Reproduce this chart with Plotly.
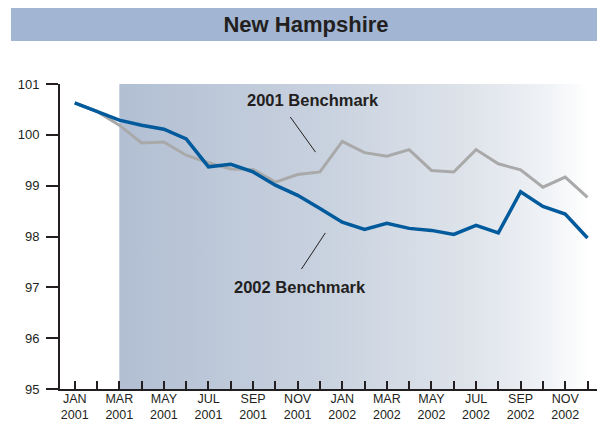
import plotly.graph_objects as go

months = ["JAN", "FEB", "MAR", "APR", "MAY", "JUN", "JUL", "AUG", "SEP", "OCT", "NOV", "DEC"]
years = ["2001", "2002"]
tick_labels = [f"{m}<br>{y}" if i % 2 == 0 else "" for y in years for i, m in enumerate(months)]
x_idx = list(range(24))

bench_2002 = [100.63, 100.46, 100.29, 100.19, 100.11, 99.92, 99.37, 99.42, 99.27, 99.01, 98.81, 98.55,
              98.28, 98.14, 98.26, 98.16, 98.12, 98.04, 98.22, 98.07, 98.88, 98.59, 98.44, 97.97]
bench_2001 = [100.63, 100.46, 100.19, 99.84, 99.86, 99.60, 99.45, 99.33, 99.32, 99.07, 99.22, 99.27,
              99.87, 99.65, 99.58, 99.71, 99.30, 99.27, 99.71, 99.43, 99.31, 98.97, 99.17, 98.77]

shade_x = [2, 23.06]
shade_y = [95, 101]

fig = go.Figure()

# gradient shaded region
fig.add_trace(go.Scatter(
    x=[shade_x[0], shade_x[1], shade_x[1], shade_x[0], shade_x[0]],
    y=[shade_y[0], shade_y[0], shade_y[1], shade_y[1], shade_y[0]],
    mode="none", fill="toself",
    fillgradient=dict(type="horizontal",
                      colorscale=[[0, "#B2BFD3"], [0.45, "#C9D2DF"], [0.75, "#DFE4EB"], [0.9, "#EEF1F5"], [1, "#FFFFFF"]]),
    hoverinfo="skip", showlegend=False))

fig.add_trace(go.Scatter(x=x_idx, y=bench_2001, mode="lines",
                         line=dict(color="#A9A9A9", width=3), showlegend=False))
fig.add_trace(go.Scatter(x=x_idx, y=bench_2002, mode="lines",
                         line=dict(color="#005A9C", width=3.5), showlegend=False))

# title bar
fig.add_shape(type="rect", xref="paper", yref="paper", x0=-0.0905, x1=1.01, y0=1.141, y1=1.249,
              fillcolor="#A2B6D3", line_width=0, layer="below")

# pointer lines
fig.add_shape(type="line", x0=9.67, y0=100.35, x1=10.8, y1=99.66, line=dict(color="#231F20", width=1))
fig.add_shape(type="line", x0=11.24, y0=98.07, x1=10.17, y1=97.36, line=dict(color="#231F20", width=1))

fig.add_annotation(x=10.67, y=100.69, text="<b>2001 Benchmark</b>", showarrow=False,
                   font=dict(family="Liberation Sans, Arial", size=16.5, color="#231F20"))
fig.add_annotation(x=10.11, y=97.0, text="<b>2002 Benchmark</b>", showarrow=False,
                   font=dict(family="Liberation Sans, Arial", size=16.5, color="#231F20"))

fig.update_layout(
    width=597, height=415,
    margin=dict(l=52, r=3.3, t=76, b=34, autoexpand=False),
    paper_bgcolor="white", plot_bgcolor="white",
    title=dict(text="<b>New Hampshire</b>", xref="container", x=0.4992, xanchor="center",
               yref="container", y=0.9602, yanchor="middle",
               font=dict(family="Liberation Sans, Arial", size=22, color="#231F20")),
    font=dict(family="Liberation Sans, Arial", size=13, color="#231F20"),
    xaxis=dict(range=[-0.66, 23.65], tickmode="array", tickvals=x_idx, ticktext=tick_labels,
               ticks="inside", ticklen=8, tickwidth=1.5, tickcolor="#231F20", automargin=False,
               tickfont=dict(size=12.5), ticklabelstandoff=-3,
               showline=True, linecolor="#231F20", linewidth=2, showgrid=False, zeroline=False,
               tickangle=0),
    yaxis=dict(range=[95, 101], tickvals=[95, 96, 97, 98, 99, 100, 101], automargin=False,
               ticks="outside", ticklen=12, tickwidth=1.5, tickcolor="#231F20", ticklabelstandoff=4,
               showline=True, linecolor="#231F20", linewidth=2, showgrid=False, zeroline=False),
)

fig.write_html("out.html")
